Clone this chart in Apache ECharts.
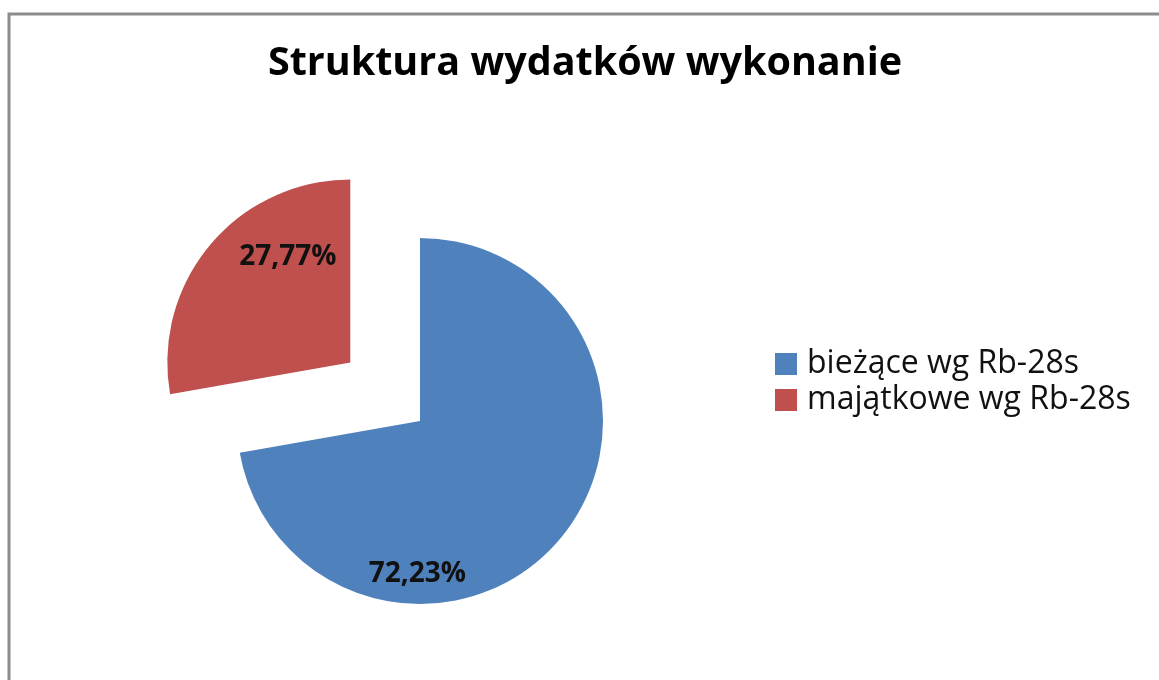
<!DOCTYPE html>
<html>
<head>
<meta charset="utf-8">
<title>Struktura wydatków wykonanie</title>
<script src="https://cdn.jsdelivr.net/npm/echarts@6/dist/echarts.min.js"></script>
<style>
    html, body { margin: 0; padding: 0; background: #fff; }
    #chart { width: 1159px; height: 680px; }
</style>
</head>
<body>
<div id="chart"></div>
<script>
/* dane */
var categories = ['bieżące wg Rb-28s', 'majątkowe wg Rb-28s'];
var shares = [72.23, 27.77];
var colors = ['#4F81BD', '#C0504D'];
var labelTexts = ['72,23%', '27,77%'];

var pieData = [];
categories.forEach(function (name, i) {
    pieData.push({
        name: name,
        value: shares[i],
        selected: i === 1,
        itemStyle: { color: colors[i] }
    });
});

/* przesunięcia etykiet względem środka wycinka */
var labelShift = [[-75, 92], [10, -45]];

var myChart = echarts.init(document.getElementById('chart'));
var option = {
    backgroundColor: '#ffffff',
    animation: false,
    title: {
        text: 'Struktura wydatków wykonanie',
        left: 585,
        textAlign: 'center',
        top: 44,
        padding: 0,
        textStyle: {
            fontFamily: 'Open Sans',
            fontWeight: 'bold',
            fontSize: 39.5,
            color: '#000'
        }
    },
    legend: {
        orient: 'vertical',
        left: 775,
        top: 348,
        padding: 0,
        icon: 'rect',
        itemWidth: 22,
        itemHeight: 22,
        itemGap: 4,
        selectedMode: false,
        data: categories,
        textStyle: {
            fontFamily: 'Open Sans',
            fontSize: 32,
            color: '#111',
            padding: [0, 0, 0, 5]
        }
    },
    graphic: [{
        type: 'polyline',
        silent: true,
        shape: { points: [[9, 680], [9, 14], [1159, 14]] },
        style: { stroke: '#8c8c8c', lineWidth: 3, fill: null }
    }],
    series: [{
        name: 'Struktura wydatków',
        type: 'pie',
        center: [420, 421],
        radius: 183,
        startAngle: 90,
        clockwise: true,
        selectedMode: 'single',
        selectedOffset: 91,
        avoidLabelOverlap: false,
        emphasis: { disabled: true },
        label: {
            show: true,
            position: 'inside',
            formatter: function (p) { return labelTexts[p.dataIndex]; },
            fontFamily: 'Open Sans',
            fontWeight: 'bold',
            fontSize: 28,
            color: '#111'
        },
        labelLine: { show: false },
        labelLayout: function (params) {
            var s = labelShift[params.dataIndex];
            return { dx: s[0], dy: s[1] };
        },
        data: pieData
    }]
};
myChart.setOption(option);
</script>
</body>
</html>
